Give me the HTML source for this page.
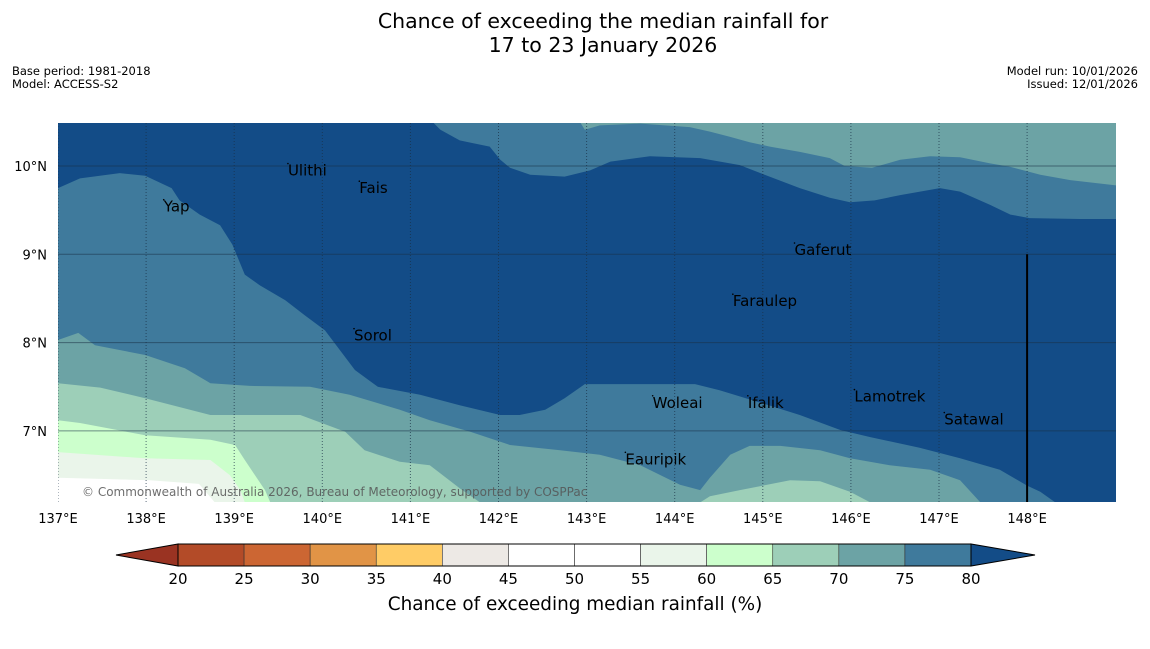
<!DOCTYPE html>
<html><head><meta charset="utf-8">
<style>
html,body{margin:0;padding:0;background:#fff;}
body{width:1150px;height:644px;overflow:hidden;font-family:"Liberation Sans","DejaVu Sans",sans-serif;}
svg text{font-family:"DejaVu Sans","Liberation Sans",sans-serif;}
</style></head>
<body>
<svg id="chart" width="1150" height="644" viewBox="0 0 1150 644" xmlns="http://www.w3.org/2000/svg">
<text x="603" y="28" font-size="20.5" text-anchor="middle" fill="#000">Chance of exceeding the median rainfall for</text>
<text x="603" y="52" font-size="20.5" text-anchor="middle" fill="#000">17 to 23 January 2026</text>
<text x="12" y="75" font-size="11.5">Base period: 1981-2018</text>
<text x="12" y="88" font-size="11.5">Model: ACCESS-S2</text>
<text x="1138" y="75" font-size="11.5" text-anchor="end">Model run: 10/01/2026</text>
<text x="1138" y="88" font-size="11.5" text-anchor="end">Issued: 12/01/2026</text>
<defs><clipPath id="mapclip"><rect x="58" y="123" width="1058" height="379"/></clipPath></defs>
<g id="map" clip-path="url(#mapclip)"></g>
<g id="overlay"></g>
<g id="cbar"></g>
<text x="575" y="610" font-size="18.4" text-anchor="middle">Chance of exceeding median rainfall (%)</text>
</svg>
<script>
const lonTicks=[137,138,139,140,141,142,143,144,145,146,147,148];
const latTicks=[7,8,9,10];
const levels=[20,25,30,35,40,45,50,55,60,65,70,75,80];
const levelColors=["#b34b28","#cc6633","#e19446","#ffcc66","#ede9e5","#ffffff","#ffffff","#eaf5ea","#ccffcc","#9dcfb8","#6ca3a5","#3f7a9c"];
// contour boundaries [lon, lat]
const below80Lon=[137,137.25,137.70,137.99,138.29,138.38,138.61,138.84,138.98,139.12,139.29,139.58,139.80,140.03,140.37,140.63,141.11,141.56,142.02,142.24,142.53,142.75,142.98,143.72,144.23,144.51,144.97,145.42,145.88,146.22,146.78,147.24,147.69,148.0,148.15,148.32];
const below80Lat=[9.75,9.86,9.92,9.89,9.75,9.61,9.45,9.33,9.11,8.77,8.65,8.48,8.31,8.14,7.69,7.50,7.41,7.29,7.18,7.18,7.24,7.37,7.53,7.53,7.53,7.46,7.32,7.18,7.01,6.93,6.81,6.69,6.56,6.38,6.31,6.19];
const below75Lon=[137,137.23,137.42,137.99,138.44,138.73,139.18,139.86,140.31,140.88,141.22,141.68,142.13,142.70,143.15,143.61,144.06,144.29,144.40,144.63,144.85,145.20,145.65,145.99,146.44,146.90,147.24,147.47];
const below75Lat=[8.03,8.11,7.97,7.86,7.71,7.54,7.51,7.50,7.41,7.24,7.12,6.99,6.84,6.78,6.73,6.61,6.39,6.33,6.47,6.73,6.83,6.83,6.78,6.69,6.61,6.56,6.44,6.19];
const below70Lon=[137,137.48,137.99,138.73,139.75,140.26,140.48,140.88,141.22,141.56,141.79];
const below70Lat=[7.54,7.49,7.37,7.18,7.18,6.99,6.78,6.65,6.61,6.35,6.19];
const below70bLon=[144.29,144.40,144.74,145.31,145.65,145.99,146.22];
const below70bLat=[6.19,6.26,6.33,6.44,6.43,6.31,6.19];
const below65Lon=[137,137.25,137.99,138.73,139.01,139.12,139.35,139.41];
const below65Lat=[7.12,7.09,6.95,6.90,6.84,6.67,6.33,6.19];
const below60Lon=[137,137.99,138.73,138.95,139.07,139.12];
const below60Lat=[6.76,6.69,6.67,6.50,6.33,6.19];
const below55Lon=[137,138.04,138.6,138.78];
const below55Lat=[6.47,6.44,6.40,6.19];
const top80Lon=[141.26,141.34,141.56,141.70,141.90,142.02,142.13,142.36,142.75,143.04,143.27,143.72,144.29,144.74,145.02,145.42,145.76,145.99,146.27,146.56,147.01,147.24,147.58,147.81,148.03,148.60,149.01];
const top80Lat=[10.49,10.41,10.29,10.26,10.22,10.07,9.98,9.90,9.88,9.95,10.05,10.11,10.09,10.01,9.90,9.75,9.64,9.59,9.61,9.67,9.75,9.71,9.56,9.45,9.41,9.40,9.40];
const top75Lon=[142.93,142.98,143.15,143.61,144.17,144.40,144.63,144.85,145.08,145.42,145.76,145.93,146.24,146.56,146.90,147.24,147.58,147.81,148.15,148.49,149.01];
const top75Lat=[10.49,10.41,10.46,10.48,10.44,10.39,10.33,10.27,10.22,10.16,10.09,10.0,9.98,10.07,10.11,10.10,10.03,9.99,9.90,9.84,9.78];
const placeNames=["Ulithi","Fais","Yap","Gaferut","Faraulep","Sorol","Woleai","Ifalik","Lamotrek","Satawal","Eauripik"];
const placeLon=[139.61,140.42,138.2,145.36,144.66,140.36,143.75,144.83,146.04,147.06,143.44];
const placeLat=[9.96,9.76,9.55,9.06,8.48,8.09,7.33,7.33,7.40,7.14,6.69];

const NS="http://www.w3.org/2000/svg";
const X0=58,PX=88.1,Y10=166,PY=88.3;
const xS=lon=>X0+(lon-137)*PX;
const yS=lat=>Y10+(10-lat)*PY;
const TOP=6.19, TOPLAT=10.49, W=137, E=149.01;
function mk(tag,attrs,parent){const e=document.createElementNS(NS,tag);for(const k in attrs)e.setAttribute(k,attrs[k]);parent.appendChild(e);return e;}
function pts(lons,lats){return lons.map((l,i)=>xS(l).toFixed(1)+","+yS(lats[i]).toFixed(1));}
const map=document.getElementById('map');
const bg=mk('rect',{x:58,y:123,width:1058,height:379,fill:'#134c87'},map);


function bottomPoly(lons,lats,color,name){
  const p=[xS(W)+","+yS(TOP)].concat(pts(lons,lats));
  p.push(xS(lons[lons.length-1])+","+yS(TOP));
  const e=mk('polygon',{points:p.join(' '),fill:color},map);
  
  
}
function topPoly(lons,lats,color,name){
  const p=pts(lons,lats);p.push(xS(E)+","+yS(TOPLAT));
  const e=mk('polygon',{points:p.join(' '),fill:color},map);
  
  
}
bottomPoly(below80Lon,below80Lat,levelColors[11],'region-75-80-south');
bottomPoly(below75Lon,below75Lat,levelColors[10],'region-70-75-south');
bottomPoly(below70Lon,below70Lat,levelColors[9],'region-65-70-southwest');
bottomPoly(below70bLon,below70bLat,levelColors[9],'region-65-70-southeast');
bottomPoly(below65Lon,below65Lat,levelColors[8],'region-60-65');
bottomPoly(below60Lon,below60Lat,levelColors[7],'region-55-60');
bottomPoly(below55Lon,below55Lat,levelColors[6],'region-50-55');
topPoly(top80Lon,top80Lat,levelColors[11],'region-75-80-north');
topPoly(top75Lon,top75Lat,levelColors[10],'region-70-75-north');
// gridlines
latTicks.forEach(lat=>{
  const l=mk('line',{x1:58,x2:1116,y1:yS(lat),y2:yS(lat),stroke:'#1a2f45',"stroke-opacity":0.55,"stroke-width":1},map);
  
  
});
lonTicks.forEach(lon=>{
  const l=mk('line',{x1:xS(lon),x2:xS(lon),y1:123,y2:502,stroke:'#1a2f45',"stroke-opacity":0.7,"stroke-width":1,"stroke-dasharray":"1,2"},map);
  
  
});
const bl=mk('line',{x1:xS(148),x2:xS(148),y1:yS(9),y2:502,stroke:'#000',"stroke-width":2},map);


// places
placeNames.forEach((n,i)=>{
  const t=mk('text',{x:xS(placeLon[i]),y:yS(placeLat[i])+6,"font-size":15,fill:'#000'},map);
  t.textContent=n;
  
  
  const d=mk('circle',{cx:xS(placeLon[i]),cy:yS(placeLat[i])-6,r:0.8,fill:'#000'},map);
  
  
});
const cp=mk('text',{x:82,y:496,"font-size":12,fill:'#555',"fill-opacity":0.85},map);
cp.textContent="© Commonwealth of Australia 2026, Bureau of Meteorology, supported by COSPPac";


// axis labels
const ov=document.getElementById('overlay');
lonTicks.forEach(lon=>{
  const t=mk('text',{x:xS(lon),y:523,"font-size":13,"text-anchor":"middle"},ov);
  t.textContent=lon+"°E";
  
  
});
latTicks.forEach(lat=>{
  const t=mk('text',{x:47,y:yS(lat)+5,"font-size":13,"text-anchor":"end"},ov);
  t.textContent=lat+"°N";
  
  
});
// colorbar
const cb=document.getElementById('cbar');
const cx=v=>178+(v-20)*(971-178)/60, cy0=544, cy1=566;
const lt=mk('polygon',{points:`116,555 ${cx(20)},${cy0} ${cx(20)},${cy1}`,fill:'#9a3322',stroke:'#000',"stroke-width":1},cb);


const rt=mk('polygon',{points:`1035,555 ${cx(80)},${cy0} ${cx(80)},${cy1}`,fill:'#134c87',stroke:'#000',"stroke-width":1},cb);


levelColors.forEach((c,i)=>{
  const r=mk('rect',{x:cx(levels[i]),y:cy0,width:cx(levels[i+1])-cx(levels[i]),height:cy1-cy0,fill:c,stroke:'#333',"stroke-width":0.6},cb);
  
  
});
const fr=mk('rect',{x:cx(20),y:cy0,width:cx(80)-cx(20),height:cy1-cy0,fill:'none',stroke:'#000',"stroke-width":1},cb);


levels.forEach(v=>{
  const t=mk('text',{x:cx(v),y:584,"font-size":15,"text-anchor":"middle"},cb);
  t.textContent=v;
  
  
});
</script>
</body></html>
